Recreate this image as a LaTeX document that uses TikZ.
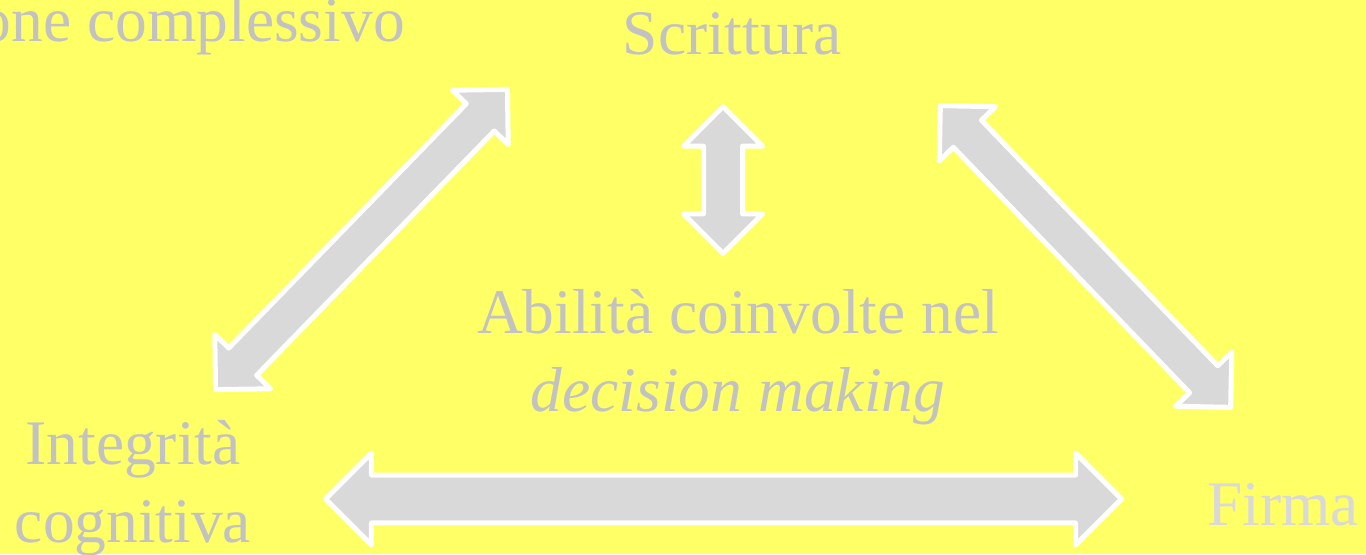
\documentclass[tikz,border=0pt]{standalone}
\usepackage{fontspec}
\setmainfont{Liberation Serif}
\usetikzlibrary{shapes.arrows}

\definecolor{bgyellow}{HTML}{FFFF66}
\definecolor{textgrey}{HTML}{C2C2C2}
\definecolor{lightgrey}{HTML}{D9D9D9}

\begin{document}
\begin{tikzpicture}[x=0.75pt,y=0.75pt,
				label/.style={text=textgrey, inner sep=0, align=center,
					font=\fontsize{47.6}{58.5}\selectfont},
				dblarrow/.style={shape=double arrow, draw=white, fill=lightgrey,
					line width=3.75pt, line join=round, inner xsep=0,
					inner ysep=12.75pt, double arrow tip angle=90},
				diagarrow/.style={dblarrow, minimum height=314pt,
					minimum width=54.75pt, double arrow head extend=14.6pt}
				]
				\fill[bgyellow] (0,0) rectangle (1366,554);
				\useasboundingbox (0,0) rectangle (1366,554);
				
				\node[label, anchor=base east] (whole) at (405,512) {one complessivo};
				\node[label, anchor=base] (scrittura) at (732,499) {Scrittura};
				\node[label, anchor=base] (abilita) at (738,143) {Abilità coinvolte nel\\ \textit{decision making}};
				\node[label, anchor=base] (integrita) at (133,12) {Integrità\\ cognitiva};
				\node[label, anchor=base west, text=lightgrey] (firma) at (1207,29) {Firma};
				
				\node[diagarrow, rotate=45.8] (arrSI) at (361.5,314.5) {};
				\node[diagarrow, rotate=-46.1] (arrSF) at (1085.5,297.5) {};
				\node[dblarrow, rotate=90, minimum height=110pt, minimum width=55.5pt,
					double arrow head extend=15pt] (arrSA) at (723,374) {};
				\node[dblarrow, inner ysep=16.1pt, minimum height=597pt, minimum width=65.25pt,
					double arrow head extend=16.5pt] (arrIF) at (723.5,55) {};
		\end{tikzpicture}
\end{document}
